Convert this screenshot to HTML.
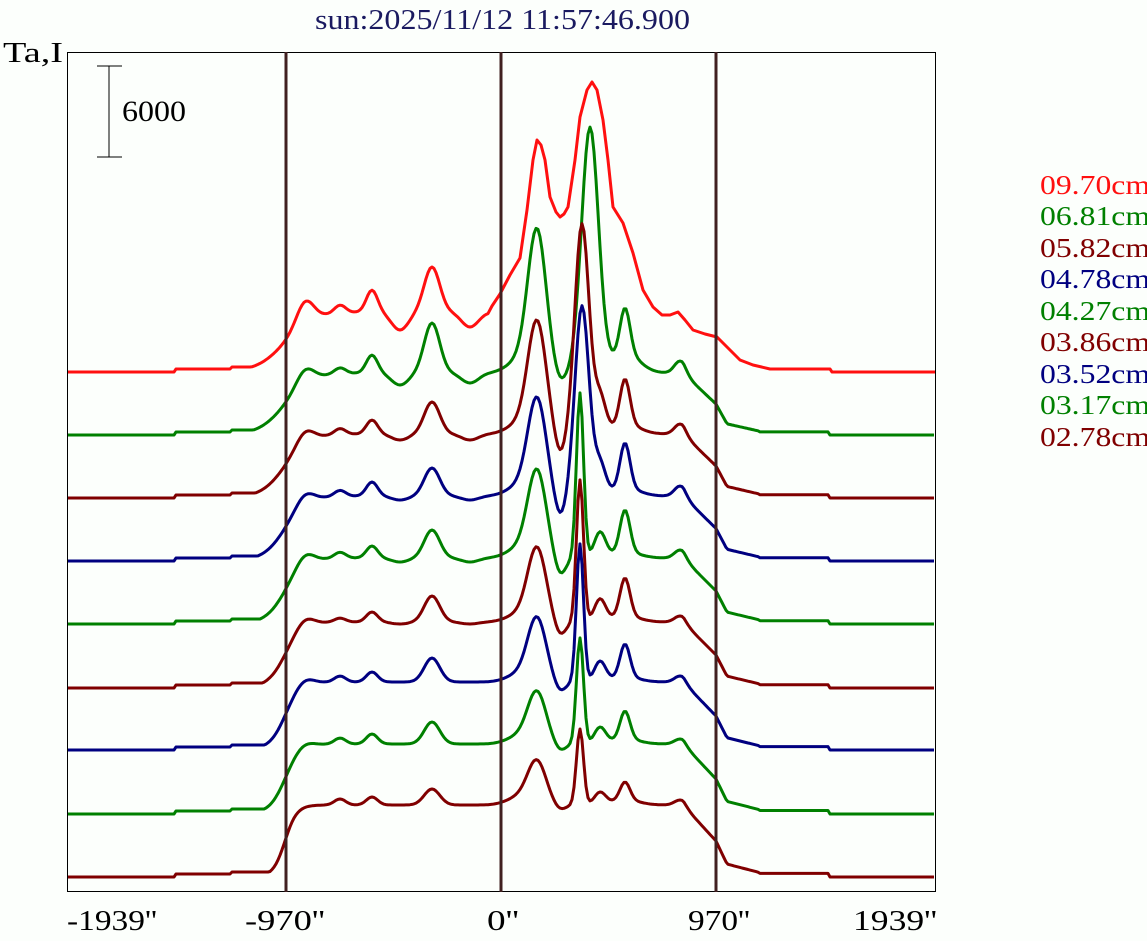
<!DOCTYPE html>
<html><head><meta charset="utf-8"><style>
body{margin:0;background:#fcfffc;width:1147px;height:941px;overflow:hidden}
svg{display:block}
text{font-family:"Liberation Serif",serif}
</style></head><body>
<svg id="s" width="1147" height="941" xmlns="http://www.w3.org/2000/svg">
<rect x="0" y="0" width="1147" height="941" fill="#fcfffc"/>
<text x="315" y="29" font-size="29" fill="#1a1a60" textLength="375" lengthAdjust="spacingAndGlyphs">sun:2025/11/12 11:57:46.900</text>
<text x="3" y="62" font-size="29" fill="#000" textLength="60" lengthAdjust="spacingAndGlyphs">Ta,I</text>
<rect x="67.5" y="52.5" width="868" height="839" fill="none" stroke="#000" stroke-width="1"/>
<line x1="109" y1="66" x2="109" y2="157" stroke="#000"/>
<line x1="97" y1="66" x2="122" y2="66" stroke="#000"/>
<line x1="97" y1="157" x2="122" y2="157" stroke="#000"/>
<text x="122" y="121" font-size="30" fill="#000" textLength="64" lengthAdjust="spacingAndGlyphs">6000</text>
<g id="curves"></g>
<line x1="286" y1="52" x2="286" y2="892" stroke="#402020" stroke-width="3"/>
<line x1="501" y1="52" x2="501" y2="892" stroke="#402020" stroke-width="3"/>
<line x1="716" y1="52" x2="716" y2="892" stroke="#402020" stroke-width="3"/>
<g font-size="29" fill="#000">
<text x="67" y="930" textLength="90" lengthAdjust="spacingAndGlyphs">-1939''</text>
<text x="245" y="930" textLength="80" lengthAdjust="spacingAndGlyphs">-970''</text>
<text x="487" y="930" textLength="32" lengthAdjust="spacingAndGlyphs">0''</text>
<text x="688" y="930" textLength="62" lengthAdjust="spacingAndGlyphs">970''</text>
<text x="853" y="930" textLength="84" lengthAdjust="spacingAndGlyphs">1939''</text>
</g>
<g font-size="27">
<text x="1040" y="194" fill="#ff1010" textLength="110" lengthAdjust="spacingAndGlyphs">09.70cm</text>
<text x="1040" y="225" fill="#008000" textLength="110" lengthAdjust="spacingAndGlyphs">06.81cm</text>
<text x="1040" y="257" fill="#800000" textLength="110" lengthAdjust="spacingAndGlyphs">05.82cm</text>
<text x="1040" y="288" fill="#000080" textLength="110" lengthAdjust="spacingAndGlyphs">04.78cm</text>
<text x="1040" y="320" fill="#008000" textLength="110" lengthAdjust="spacingAndGlyphs">04.27cm</text>
<text x="1040" y="351" fill="#800000" textLength="110" lengthAdjust="spacingAndGlyphs">03.86cm</text>
<text x="1040" y="383" fill="#000080" textLength="110" lengthAdjust="spacingAndGlyphs">03.52cm</text>
<text x="1040" y="414" fill="#008000" textLength="110" lengthAdjust="spacingAndGlyphs">03.17cm</text>
<text x="1040" y="446" fill="#800000" textLength="110" lengthAdjust="spacingAndGlyphs">02.78cm</text>
</g>
</svg>
<script>
var cols=["#ff1010","#008000","#800000","#000080","#008000","#800000","#000080","#008000","#800000"];
var base=[372,435,498,561,624,688,750,814,877];
var D=[60,62,64,65,66,66,68,70,72];
var lw=[14,13,12,11,10,9,8,8,6];
var P=[
 [305,12,[22,14,12,10,10,8,6,4,0]],
 [340,8,[8,6,6,6,6,4,6,6,6]],
 [372,8,[22,18,14,14,12,10,10,10,8]],
 [432,11,[45,50,32,28,28,26,24,22,16]],
 [400,12,[-18,-12,-6,-4,-4,-2,0,0,0]],
 [470,12,[-15,-10,-6,-4,-4,-2,0,0,0]],
 [537,13,[0,140,110,95,85,72,62,50,42]],
 [520,18,[0,12,10,10,10,8,8,8,8]],
 [560,8,[0,-10,-22,-22,-18,-14,-10,-7,-5]],
 [590,12,[0,245,0,0,0,0,0,0,0]],
 [582,10,[0,0,210,190,0,0,0,0,0]],
 [580,5,[0,0,0,0,165,142,138,106,76]],
 [600,8,[0,0,35,30,25,22,20,16,12]],
 [625,7,[0,45,45,45,42,38,33,28,18]],
 [625,20,[0,20,10,8,6,6,5,5,5]],
 [680,8,[0,12,10,10,8,6,6,5,5]]
];
var redR=[[492,306],[500,294],[510,275],[520,258],[527,210],[533,160],[537,140],[541,145],[545,160],[550,197],[556,212],[560,217],[564,214],[568,207],[575,160],[580,117],[587,90],[592,82],[597,90],[603,120],[608,160],[613,207],[623,223],[633,253],[643,290],[653,307],[662,315],[670,315],[678,312],[685,320],[693,330],[705,334],[717,337],[728,348],[740,360],[753,365],[770,369],[830,369],[832,372],[935,372]];
function sig(x){return 1/(1+Math.exp(-x));}
function rr(x){
 if(x<683)return 1;
 if(x<716)return 1-0.5*(x-683)/33;
 if(x<727)return 0.5-0.32*(x-716)/11;
 if(x<760)return 0.18-0.12*(x-727)/33;
 if(x<830)return 0.05;
 return 0;
}
var g=document.getElementById("curves"),h="";
for(var i=0;i<9;i++){
 var pts=[];
 for(var x=68;x<=935;x+=2){
  if(i==0&&x>=490)break;
  var d=D[i]*sig((x-285)/lw[i]);
  if(x>400)d=D[i]*rr(x);
  var ped=0;
  if(x>175&&x<=230)ped=3; else if(x>230&&x<=300)ped=5;
  if(x<300) d=Math.max(d,ped);
  var v=d;
  for(var k=0;k<P.length;k++){var p=P[k];var a=p[2][i];if(!a)continue;var t=(x-p[0])/p[1];v+=a*Math.exp(-t*t)*(x>250&&x<760?1:0);}
  pts.push(x+","+(base[i]-v).toFixed(1));
 }
 if(i==0){for(var j=0;j<redR.length;j++)pts.push(redR[j][0]+","+redR[j][1]);}
 h+='<polyline fill="none" stroke="'+cols[i]+'" stroke-width="3" stroke-linejoin="round" points="'+pts.join(" ")+'"/>';
}
g.innerHTML=h;
</script>
</body></html>
